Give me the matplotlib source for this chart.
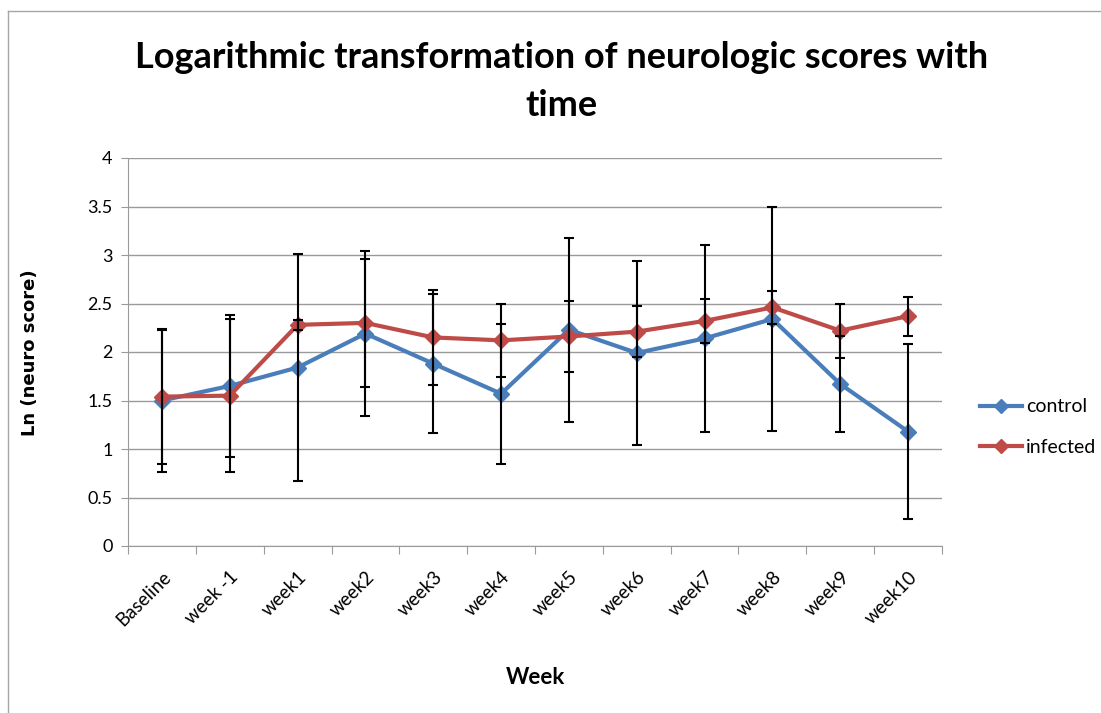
import matplotlib
matplotlib.use("Agg")
import matplotlib.pyplot as plt
from matplotlib.lines import Line2D
import numpy as np

categories = ["Baseline", "week -1", "week1", "week2", "week3", "week4",
              "week5", "week6", "week7", "week8", "week9", "week10"]
control = [1.50, 1.65, 1.84, 2.19, 1.88, 1.57, 2.23, 1.99, 2.14, 2.34, 1.67, 1.18]
control_err = [0.74, 0.73, 1.17, 0.85, 0.72, 0.72, 0.95, 0.95, 0.96, 1.15, 0.49, 0.90]
infected = [1.54, 1.55, 2.28, 2.30, 2.15, 2.12, 2.16, 2.21, 2.32, 2.46, 2.22, 2.37]
infected_err = [0.69, 0.79, 0.05, 0.66, 0.49, 0.38, 0.37, 0.26, 0.23, 0.17, 0.28, 0.20]
yticks = [0, 0.5, 1, 1.5, 2, 2.5, 3, 3.5, 4]

W, H = 1101, 713
fig = plt.figure(figsize=(W / 100, H / 100), dpi=100)
fig.patch.set_facecolor("white")
# outer chart border (top and left visible)
fig.add_artist(Line2D([8 / W, 1.0], [1 - 10.5 / H] * 2, transform=fig.transFigure,
                      color="#a6a6a6", lw=1.0))
fig.add_artist(Line2D([8 / W] * 2, [0.0, 1 - 10.5 / H], transform=fig.transFigure,
                      color="#a6a6a6", lw=1.0))

ax = fig.add_axes([128 / W, 1 - 546 / H, (942 - 128) / W, (546 - 158) / H])
x = np.arange(len(categories))

c_blue = "#4A7EBB"
c_red = "#BE4B48"
ax.plot(x, control, color=c_blue, lw=3, marker="D", ms=8, zorder=3, label="control")
ax.plot(x, infected, color=c_red, lw=3, marker="D", ms=8, zorder=3, label="infected")
ax.errorbar(x, control, yerr=control_err, fmt="none", ecolor="black", elinewidth=1.5,
            capsize=3.3, capthick=1.5, zorder=4)
ax.errorbar(x, infected, yerr=infected_err, fmt="none", ecolor="black", elinewidth=1.5,
            capsize=3.3, capthick=1.5, zorder=4)

grid_c = "#9a9a9a"
ax.set_xlim(-0.5, len(categories) - 0.5)
ax.set_ylim(0, 4)
ax.set_yticks(yticks)
ax.set_yticklabels([f"{v:g}" for v in yticks], fontsize=13, family="Lato")
ax.yaxis.grid(True, color=grid_c, lw=1)
ax.set_axisbelow(True)
for s in ["top", "right"]:
    ax.spines[s].set_visible(False)
for s in ["left", "bottom"]:
    ax.spines[s].set_color(grid_c)
ax.tick_params(axis="y", length=5, color=grid_c, pad=6)

ax.set_xticks(np.arange(-0.5, len(categories), 1.0))
ax.set_xticklabels([])
ax.set_xticks(x, minor=True)
ax.set_xticklabels(categories, minor=True, rotation=45, ha="right", va="top",
                   rotation_mode="anchor", fontsize=13.5, family="Lato")
ax.tick_params(axis="x", which="major", length=6, color=grid_c)
ax.tick_params(axis="x", which="minor", length=0, pad=16)

fig.text(0.510, 1 - 57 / H, "Logarithmic transformation of neurologic scores with",
         ha="center", va="center", fontsize=26, fontweight="bold", family="Lato")
fig.text(0.510, 1 - 105 / H, "time", ha="center", va="center", fontsize=26,
         fontweight="bold", family="Lato")
fig.text(30 / W, 1 - 353 / H, "Ln (neuro score)", rotation=90, ha="center", va="center",
         fontsize=13, fontweight="bold", family="DejaVu Sans")
fig.text(535 / W, 1 - 678 / H, "Week", ha="center", va="center", fontsize=16,
         fontweight="bold", family="Lato")

leg = ax.legend(loc="center left", bbox_to_anchor=(962 / W, 1 - 427 / H),
                bbox_transform=fig.transFigure, frameon=False,
                handlelength=2.2, handletextpad=0.2, labelspacing=1.2,
                prop={"family": "Lato", "size": 14})
for h in leg.legend_handles:
    h.set_markersize(7)

fig.savefig("out.png", dpi=100)
